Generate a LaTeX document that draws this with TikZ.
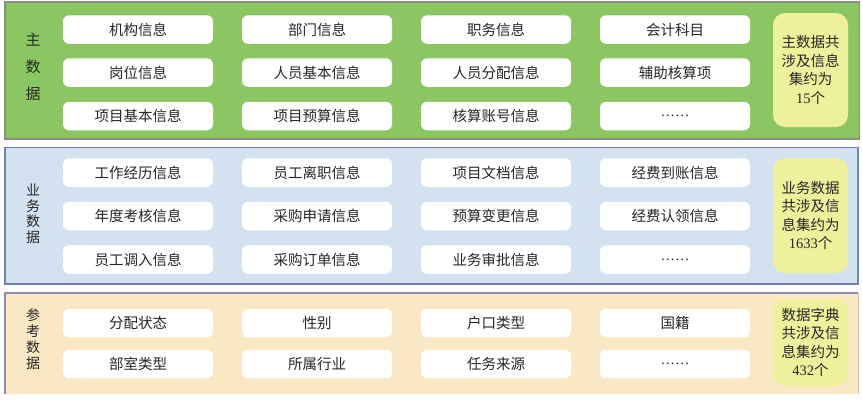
\documentclass[tikz,border=0pt]{standalone}
\usepackage{fontspec}
\setmainfont{Noto Sans CJK SC}
\newfontfamily\latinserif{Liberation Serif}
\newcommand\dignum[1]{{\latinserif #1}}
\definecolor{greenbg}{HTML}{8CC663}
\definecolor{greenbd}{HTML}{8C8C8C}
\definecolor{bluebg}{HTML}{D3E2F0}
\definecolor{bluebd}{HTML}{7482AC}
\definecolor{beigebg}{HTML}{FAE8C4}
\definecolor{beigebd}{HTML}{8E8CA8}
\definecolor{sumyellow}{HTML}{EEF09C}
\definecolor{txt}{HTML}{262626}
\begin{document}
\begin{tikzpicture}[x=1pt,y=-1pt,
  item/.style={fill=white, rounded corners=6pt, minimum width=150pt, minimum height=28.5pt,
    inner sep=0pt, text=txt, font=\fontsize{14.5}{16}\selectfont},
  summary/.style={fill=sumyellow, rounded corners=12pt, minimum width=75pt, inner sep=0pt,
    align=center, text=txt, font=\fontsize{14.5}{18.5}\selectfont},
  sidelabel/.style={align=center, text=txt, inner sep=0pt}
]
\useasboundingbox (0,0) rectangle (862,402);
% panels
\path[fill=greenbg, draw=greenbd, line width=1.3pt] (5,2) rectangle (859.5,139);
\path[fill=bluebg, draw=bluebd, line width=1.3pt] (5,147.5) rectangle (858,284);
\fill[beigebg] (5,293) rectangle (858,394);
\draw[beigebd, line width=1.2pt] (5,394) -- (5,293) -- (858,293);
\draw[beigebg!85!black, line width=0.8pt] (858,293) -- (858,394);

% panel 1
\node[sidelabel, font=\fontsize{15}{27}\selectfont] (l1) at (33,67) {主\\数\\据};
\node[item] (a11) at (138,29.5) {机构信息};
\node[item] (a12) at (317,29.5) {部门信息};
\node[item] (a13) at (496,29.5) {职务信息};
\node[item] (a14) at (675,29.5) {会计科目};
\node[item] (a21) at (138,72.5) {岗位信息};
\node[item] (a22) at (317,72.5) {人员基本信息};
\node[item] (a23) at (496,72.5) {人员分配信息};
\node[item] (a24) at (675,72.5) {辅助核算项};
\node[item] (a31) at (138,116) {项目基本信息};
\node[item] (a32) at (317,116) {项目预算信息};
\node[item] (a33) at (496,116) {核算账号信息};
\node[item] (a34) at (675,116) {\latinserif ……};
\node[summary, minimum height=114pt] (s1) at (810.5,70) {主数据共\\涉及信息\\集约为\\\dignum{15}个};

% panel 2
\node[sidelabel, font=\fontsize{14}{15.5}\selectfont] (l2) at (33,214) {业\\务\\数\\据};
\node[item] (b11) at (138,172.5) {工作经历信息};
\node[item] (b12) at (317,172.5) {员工离职信息};
\node[item] (b13) at (496,172.5) {项目文档信息};
\node[item] (b14) at (675,172.5) {经费到账信息};
\node[item] (b21) at (138,216) {年度考核信息};
\node[item] (b22) at (317,216) {采购申请信息};
\node[item] (b23) at (496,216) {预算变更信息};
\node[item] (b24) at (675,216) {经费认领信息};
\node[item] (b31) at (138,259.5) {员工调入信息};
\node[item] (b32) at (317,259.5) {采购订单信息};
\node[item] (b33) at (496,259.5) {业务审批信息};
\node[item] (b34) at (675,259.5) {\latinserif ……};
\node[summary, minimum height=115pt] (s2) at (810.5,215.5) {业务数据\\共涉及信\\息集约为\\\dignum{1633}个};

% panel 3
\node[sidelabel, font=\fontsize{14}{16}\selectfont] (l3) at (33,339) {参\\考\\数\\据};
\node[item] (c11) at (138,323) {分配状态};
\node[item] (c12) at (317,323) {性别};
\node[item] (c13) at (496,323) {户口类型};
\node[item] (c14) at (675,323) {国籍};
\node[item] (c21) at (138,364) {部室类型};
\node[item] (c22) at (317,364) {所属行业};
\node[item] (c23) at (496,364) {任务来源};
\node[item] (c24) at (675,364) {\latinserif ……};
\node[summary, minimum height=87pt] (s3) at (810.5,342.5) {数据字典\\共涉及信\\息集约为\\\dignum{432}个};
\end{tikzpicture}
\end{document}
